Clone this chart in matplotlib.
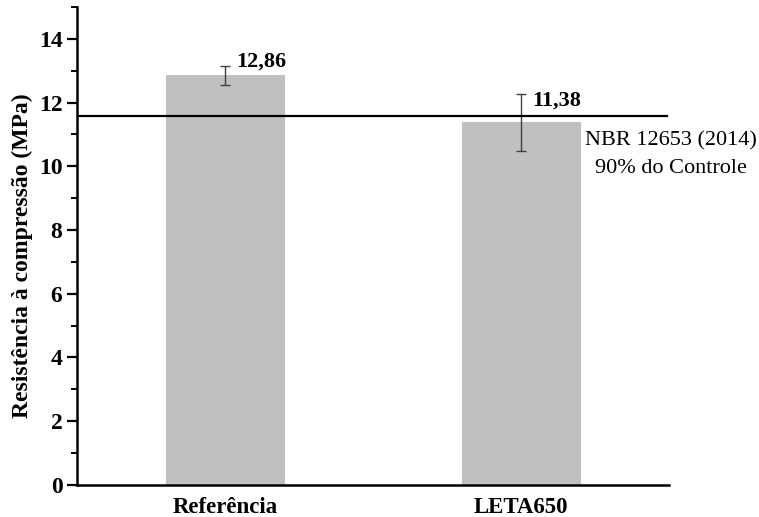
import matplotlib.pyplot as plt
from matplotlib.ticker import MultipleLocator

plt.rcParams['font.family'] = ['Liberation Serif', 'DejaVu Serif']

# resistência média e desvio padrão
amostras = ['Referência', 'LETA650']
resistencia = [12.86, 11.38]
desvio = [0.30, 0.90]
rotulos = ['12,86', '11,38']
limite_norma = 0.9 * resistencia[0]

fig = plt.figure(figsize=(7.59, 5.17), dpi=100)
ax = fig.add_axes([0.1015, 0.062, 0.78, 0.9245])

x = range(len(amostras))
ax.bar(x, resistencia, width=0.402, color='#c0c0c0', zorder=2)
ax.errorbar(x, resistencia, yerr=desvio, fmt='none', ecolor='#404040',
            elinewidth=1, capsize=3.6, capthick=1, zorder=3)

# altura dos rótulos de valor acima das barras
altura_rotulo = [0.28, 0.51]
for xi, v, h, r in zip(x, resistencia, altura_rotulo, rotulos):
    ax.text(xi + 0.039, v + h, r, ha='left', va='baseline',
            fontsize=16, fontweight='bold')

ax.axhline(limite_norma, xmin=0, xmax=0.997, color='black', lw=1.6, zorder=4)
ax.text(1.505, 10.38, 'NBR 12653 (2014)\n90% do Controle', ha='center',
        va='center', fontsize=16, linespacing=1.6)

ax.set_xlim(-0.5, 1.5)
ax.set_ylim(0, 15)
ax.set_xticks(list(x))
ax.set_xticklabels(amostras, fontsize=16.5, fontweight='bold')
ax.tick_params(axis='x', length=0, pad=9)
ax.yaxis.set_major_locator(MultipleLocator(2))
ax.yaxis.set_minor_locator(MultipleLocator(1))
ax.tick_params(axis='y', which='major', length=7, width=1.6, labelsize=17, pad=3.5)
ax.tick_params(axis='y', which='minor', length=4, width=1.4)
for lab in ax.get_yticklabels():
    lab.set_fontweight('bold')
ax.set_ylabel('Resistência à compressão (MPa)', fontsize=17, fontweight='bold')
ax.yaxis.set_label_coords(-0.075, 0.48)

for s in ['top', 'right']:
    ax.spines[s].set_visible(False)
for s in ['left', 'bottom']:
    ax.spines[s].set_linewidth(1.8)

fig.savefig('out.png', dpi=100)
